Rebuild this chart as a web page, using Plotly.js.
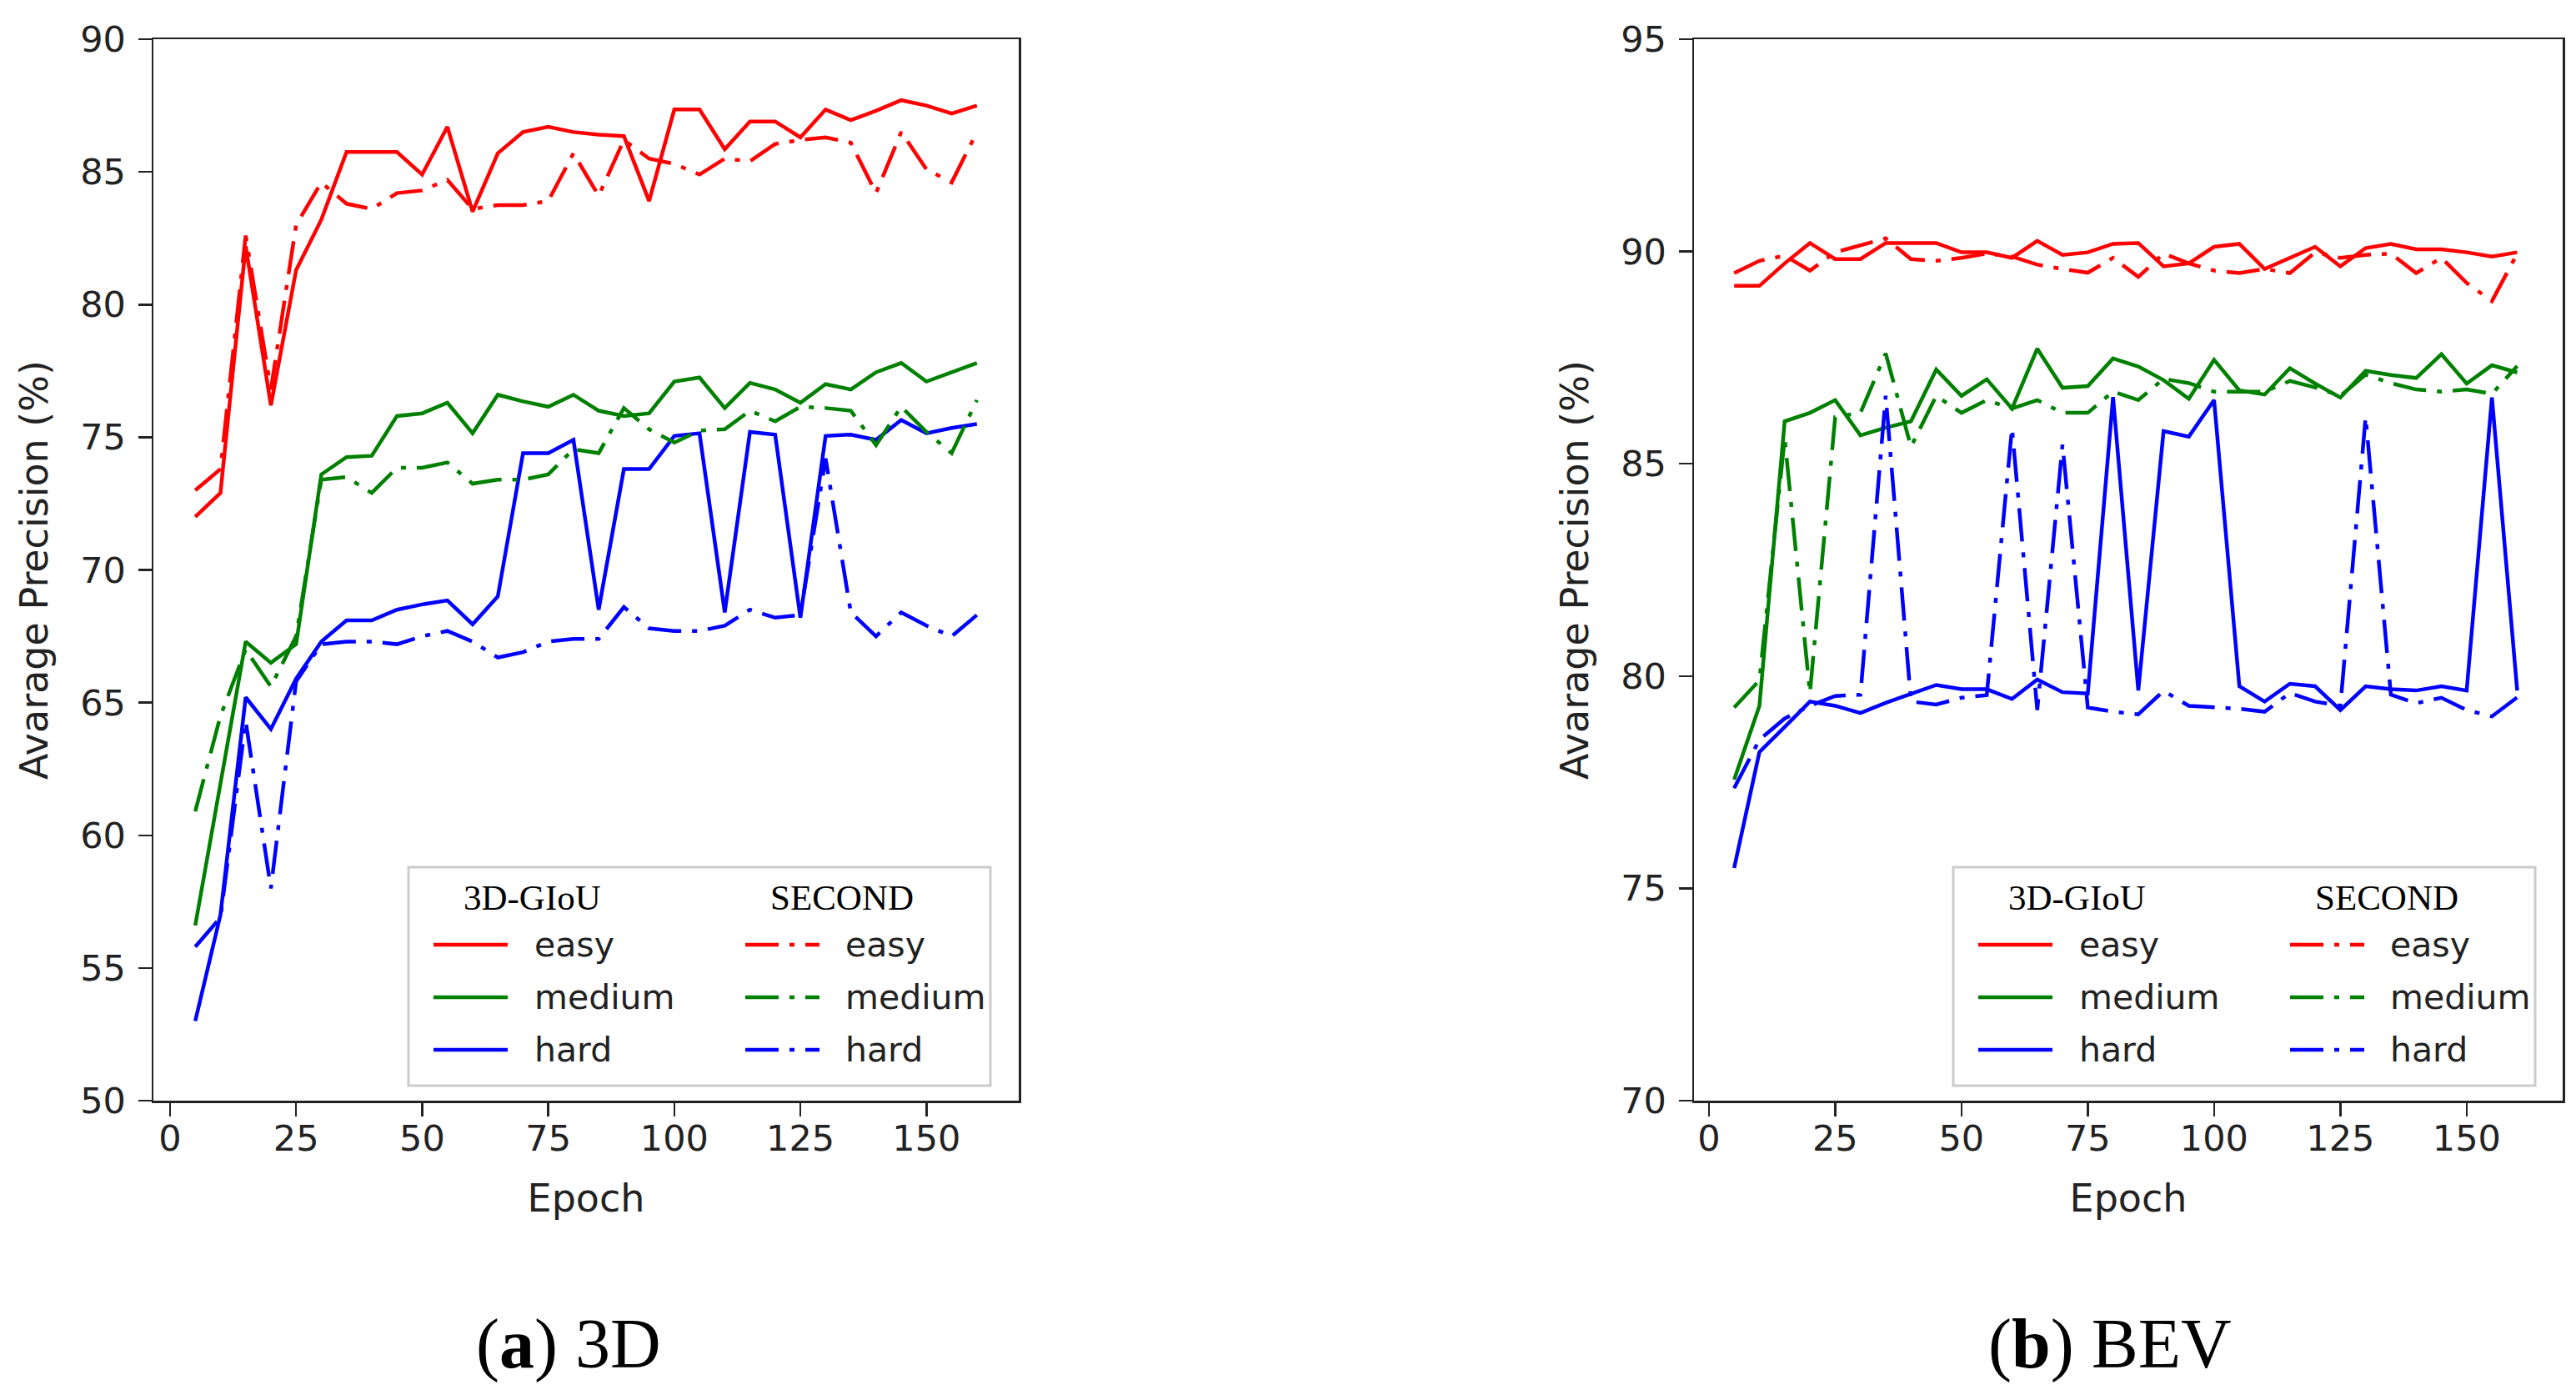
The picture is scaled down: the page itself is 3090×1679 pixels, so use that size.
<!DOCTYPE html>
<html>
<head>
<meta charset="utf-8">
<script src="https://cdn.plot.ly/plotly-3.0.1.min.js"></script>
<style>
html,body{margin:0;padding:0;background:#ffffff;}
#chart{width:3090px;height:1679px;}
</style>
</head>
<body>
<div id="chart"></div>
<script>
// ---------------- DATA ----------------
const epochs = [5,10,15,20,25,30,35,40,45,50,55,60,65,70,75,80,85,90,95,100,105,110,115,120,125,130,135,140,145,150,155,160];

// (a) 3D
const giou3dEasy   = [72.0,72.9,82.2,76.2,81.3,83.2,85.75,85.75,85.75,84.9,86.7,83.5,85.7,86.5,86.7,86.5,86.4,86.35,83.9,87.35,87.35,85.85,86.9,86.9,86.3,87.35,86.95,87.3,87.7,87.5,87.2,87.5];
const second3dEasy = [73.0,73.8,82.6,76.8,83.0,84.6,83.8,83.6,84.2,84.3,84.7,83.6,83.75,83.75,83.9,85.7,84.1,86.2,85.5,85.3,84.9,85.5,85.4,86.05,86.2,86.3,86.1,84.2,86.5,85.1,84.6,86.5];
const giou3dMedium   = [56.6,62.0,67.3,66.5,67.2,73.6,74.25,74.3,75.8,75.9,76.3,75.15,76.6,76.35,76.15,76.6,76.0,75.8,75.9,77.1,77.25,76.1,77.05,76.8,76.3,77.0,76.8,77.45,77.8,77.1,77.45,77.8];
const second3dMedium = [60.9,64.5,67.0,65.6,67.5,73.4,73.5,72.9,73.85,73.85,74.05,73.25,73.4,73.4,73.6,74.55,74.4,76.1,75.3,74.8,75.25,75.3,76.0,75.6,76.15,76.1,76.0,74.7,76.15,75.2,74.4,76.4];
const giou3dHard   = [53.0,57.0,65.2,64.0,65.9,67.3,68.1,68.1,68.5,68.7,68.85,67.95,69.0,74.4,74.4,74.9,68.5,73.8,73.8,75.05,75.15,68.4,75.2,75.1,68.2,75.05,75.1,74.9,75.65,75.15,75.35,75.5];
const second3dHard = [55.8,56.9,64.3,58.0,65.8,67.2,67.3,67.3,67.2,67.5,67.7,67.3,66.7,66.9,67.3,67.4,67.4,68.6,67.8,67.7,67.7,67.9,68.5,68.2,68.3,74.2,68.4,67.5,68.4,67.9,67.5,68.3];

// (b) BEV
const giouBevEasy   = [89.19,89.19,89.72,90.2,89.82,89.82,90.2,90.2,90.2,89.98,89.98,89.85,90.25,89.92,89.98,90.18,90.2,89.65,89.72,90.11,90.18,89.59,89.85,90.11,89.65,90.08,90.18,90.05,90.05,89.98,89.88,89.98];
const secondBevEasy = [89.49,89.78,89.9,89.55,89.98,90.15,90.31,89.82,89.78,89.85,89.95,89.88,89.69,89.59,89.5,89.85,89.4,89.95,89.72,89.55,89.49,89.59,89.49,89.98,89.85,89.92,89.95,89.49,89.85,89.26,88.83,89.95];
const giouBevMedium   = [77.56,79.3,86.0,86.2,86.5,85.67,85.85,86.0,87.22,86.6,86.99,86.3,87.71,86.79,86.83,87.48,87.29,86.97,86.53,87.45,86.73,86.63,87.25,86.89,86.56,87.19,87.09,87.02,87.58,86.89,87.32,87.15];
const secondBevMedium = [79.26,79.9,85.6,79.6,86.1,86.2,87.6,85.4,86.6,86.2,86.5,86.3,86.5,86.2,86.2,86.7,86.5,87.0,86.9,86.7,86.7,86.7,86.95,86.8,86.6,87.1,86.9,86.75,86.7,86.75,86.65,87.3];
const giouBevHard   = [75.48,78.21,78.8,79.4,79.3,79.13,79.37,79.59,79.79,79.69,79.69,79.46,79.92,79.62,79.59,86.57,79.66,85.77,85.64,86.5,79.76,79.4,79.82,79.76,79.2,79.76,79.69,79.66,79.76,79.66,86.56,79.66];
const secondBevHard = [77.36,78.5,79.0,79.3,79.53,79.56,86.6,79.4,79.33,79.49,79.55,85.84,79.2,85.45,79.26,79.16,79.1,79.65,79.3,79.26,79.23,79.16,79.6,79.4,79.3,86.1,79.56,79.36,79.49,79.2,79.05,79.5];

const levelNames = ["easy","medium","hard"];
const levelColors = ["#ff0000","#008000","#0000ff"];
const methodNames = ["3D-GIoU","SECOND"];
const xTicks = [0,25,50,75,100,125,150];
const yTicks3d = [50,55,60,65,70,75,80,85,90];
const yTicksBev = [70,75,80,85,90,95];
const panelCaptions = ["(<b>a</b>) 3D","(<b>b</b>) BEV"];
const xTitle = "Epoch";
const yTitle = "Avarage Precision (%)";

// ---------------- STYLE ----------------
const W = 3090, H = 1679;
const DASHDOT = "40px,13px,6px,13px";
const LW = 4.5;
const AXC = "#222222";
const px2x = p => p / W;
const px2y = p => 1 - p / H;

const panels = [
  {xa:"x", ya:"y", series:[[giou3dEasy,giou3dMedium,giou3dHard],[second3dEasy,second3dMedium,second3dHard]],
   xDom:[184,1222], xRange:[-3.3,168.3], legLeft:490, legRight:1188, capX:682},
  {xa:"x2", ya:"y2", series:[[giouBevEasy,giouBevMedium,giouBevHard],[secondBevEasy,secondBevMedium,secondBevHard]],
   xDom:[2032,3074], xRange:[-2.95,169.0], legLeft:2343, legRight:3041, capX:2531}
];

const traces = [];
panels.forEach(p => {
  for (let m = 0; m < 2; m++) {
    for (let l = 0; l < 3; l++) {
      traces.push({
        x: epochs, y: p.series[m][l], xaxis: p.xa, yaxis: p.ya,
        type: "scatter", mode: "lines", showlegend: false,
        name: methodNames[m] + " " + levelNames[l],
        line: {color: levelColors[l], width: LW, dash: m === 0 ? "solid" : DASHDOT}
      });
    }
  }
});

const tickFont = {family: "DejaVu Sans", size: 43, color: AXC};
const titleFont = {family: "DejaVu Sans", size: 46, color: AXC};
const yTop = 47, yBot = 1320;

function xAxis(dom, range, anchor) {
  return {
    domain: [px2x(dom[0]), px2x(dom[1])], anchor: anchor,
    range: range, tickmode: "array", tickvals: xTicks,
    ticks: "outside", ticklen: 16, tickwidth: 2.5, tickcolor: AXC,
    showline: true, linecolor: AXC, linewidth: 2.5, mirror: true,
    showgrid: false, zeroline: false, tickfont: tickFont, ticklabelstandoff: -10,
    title: {text: xTitle, font: titleFont, standoff: 32}
  };
}
function yAxis(range, ticks, anchor) {
  return {
    domain: [px2y(yBot), px2y(yTop)], anchor: anchor,
    range: range, tickmode: "array", tickvals: ticks,
    ticks: "outside", ticklen: 16, tickwidth: 2.5, tickcolor: AXC,
    showline: true, linecolor: AXC, linewidth: 2.5, mirror: true,
    showgrid: false, zeroline: false, tickfont: tickFont, ticklabelstandoff: 6,
    title: {text: yTitle, font: titleFont, standoff: 24}
  };
}

const shapes = [];
const annotations = [];
const legTop = 1040, legBot = 1302;
const headerY = 1076, rowY = [1133, 1196, 1259];

panels.forEach((p, pi) => {
  const L = p.legLeft;
  shapes.push({type: "rect", xref: "paper", yref: "paper",
    x0: px2x(L), x1: px2x(p.legRight), y0: px2y(legBot), y1: px2y(legTop),
    line: {color: "#cccccc", width: 3}, fillcolor: "rgba(255,255,255,0.85)", layer: "above"});
  const colLine = [[L + 30, L + 119], [L + 404, L + 493]];
  const colText = [L + 149, L + 522];
  const colHead = [L + 148, L + 520];
  for (let m = 0; m < 2; m++) {
    annotations.push({xref: "paper", yref: "paper", x: px2x(colHead[m]), y: px2y(headerY),
      text: methodNames[m], showarrow: false, xanchor: "center", yanchor: "middle",
      font: {family: "Liberation Serif", size: 43, color: "#000000"}});
    for (let l = 0; l < 3; l++) {
      shapes.push({type: "line", xref: "paper", yref: "paper", layer: "above",
        x0: px2x(colLine[m][0]), x1: px2x(colLine[m][1]), y0: px2y(rowY[l]), y1: px2y(rowY[l]),
        line: {color: levelColors[l], width: LW, dash: m === 0 ? "solid" : DASHDOT}});
      annotations.push({xref: "paper", yref: "paper", x: px2x(colText[m]), y: px2y(rowY[l]),
        text: levelNames[l], showarrow: false, xanchor: "left", yanchor: "middle",
        font: {family: "DejaVu Sans", size: 41, color: AXC}});
    }
  }
  annotations.push({xref: "paper", yref: "paper", x: px2x(p.capX), y: px2y(1612),
    text: panelCaptions[pi], showarrow: false, xanchor: "center", yanchor: "middle",
    font: {family: "Liberation Serif", size: 84, color: "#000000"}});
});

const layout = {
  width: W, height: H,
  margin: {l: 0, r: 0, t: 0, b: 0, pad: 0},
  paper_bgcolor: "#ffffff", plot_bgcolor: "#ffffff",
  showlegend: false,
  xaxis: xAxis(panels[0].xDom, panels[0].xRange, "y"),
  yaxis: yAxis([50, 90], yTicks3d, "x"),
  xaxis2: xAxis(panels[1].xDom, panels[1].xRange, "y2"),
  yaxis2: yAxis([70, 95], yTicksBev, "x2"),
  shapes: shapes,
  annotations: annotations
};

Plotly.newPlot("chart", traces, layout, {staticPlot: true, displayModeBar: false});
</script>
</body>
</html>
